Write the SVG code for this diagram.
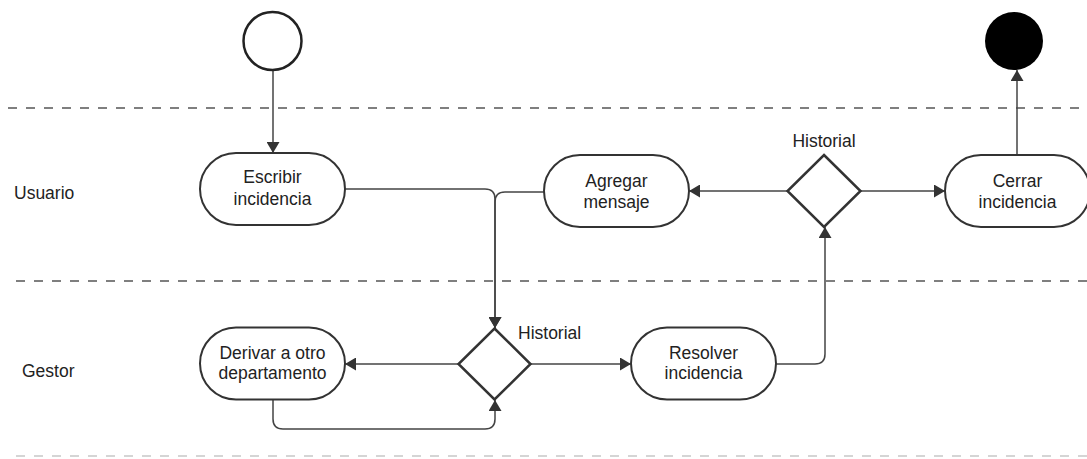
<svg xmlns="http://www.w3.org/2000/svg" width="1087" height="459" viewBox="0 0 1087 459">
<defs>
<style>
.lane{stroke:#555;stroke-width:1.5;stroke-dasharray:9 9;fill:none}
.lane2{stroke:#c8c8c8;stroke-width:1.5;stroke-dasharray:9 9;fill:none}
.box{fill:#fff;stroke:#333;stroke-width:2}
.dia{fill:#fff;stroke:#333;stroke-width:2.5}
.t{font-family:"Liberation Sans",Arial,sans-serif;font-size:17.5px;fill:#222}
.c{text-anchor:middle}
.edge{fill:none;stroke:#444;stroke-width:1.5;marker-end:url(#arr)}
</style>
<marker id="arr" viewBox="0 0 11 13" refX="11" refY="6.5" markerWidth="11" markerHeight="13" markerUnits="userSpaceOnUse" orient="auto">
<path d="M0,0 L11,6.5 L0,13 z" fill="#333"/>
</marker>
</defs>
<rect width="1087" height="459" fill="#fff"/>
<g id="lanes">
<line class="lane" x1="8" y1="108" x2="1087" y2="108"/>
<line class="lane" x1="16" y1="281" x2="1087" y2="281"/>
<line class="lane2" x1="16" y1="456" x2="1087" y2="456"/>
<text class="t" x="14" y="199">Usuario</text>
<text class="t" x="22" y="377">Gestor</text>
</g>
<g id="connectors">
<path class="edge" d="M273 70 V153"/>
<path class="edge" d="M345 189 H485 Q495 189 495 199 V328"/>
<path class="edge" d="M544 192 H505 Q495 192 495 202 V328"/>
<path class="edge" d="M458 364 H345"/>
<path class="edge" d="M273 400 V419 Q273 429 283 429 H485 Q495 429 495 419 V400"/>
<path class="edge" d="M531 364 H631"/>
<path class="edge" d="M776 364 H815 Q825 364 825 354 V227"/>
<path class="edge" d="M787 191 H689"/>
<path class="edge" d="M861 191 H945"/>
<path class="edge" d="M1017 155 V70"/>
</g>
<g id="start"><circle cx="272.5" cy="41" r="29" fill="#fff" stroke="#222" stroke-width="2.5"/></g>
<g id="end"><circle cx="1014" cy="41" r="29" fill="#000"/></g>
<g id="escribir">
<rect class="box" x="200" y="153" width="145" height="72" rx="36"/>
<text class="t c" x="272.5" y="183">Escribir</text>
<text class="t c" x="272.5" y="205">incidencia</text>
</g>
<g id="agregar">
<rect class="box" x="544" y="155" width="145" height="72" rx="36"/>
<text class="t c" x="616.5" y="186.5">Agregar</text>
<text class="t c" x="616.5" y="207.5">mensaje</text>
</g>
<g id="historial1">
<polygon class="dia" points="824,155 860.5,191 824,227 787.5,191"/>
<text class="t c" x="824" y="146.5">Historial</text>
</g>
<g id="cerrar">
<rect class="box" x="945" y="155" width="145" height="72" rx="36"/>
<text class="t c" x="1017.5" y="186.5">Cerrar</text>
<text class="t c" x="1017.5" y="207.5">incidencia</text>
</g>
<g id="derivar">
<rect class="box" x="200" y="327.5" width="145" height="72" rx="36"/>
<text class="t c" x="272.5" y="359">Derivar a otro</text>
<text class="t c" x="272.5" y="379">departamento</text>
</g>
<g id="historial2">
<polygon class="dia" points="494.5,328.5 530.5,364 494.5,399.5 458.5,364"/>
<text class="t" x="518" y="339">Historial</text>
</g>
<g id="resolver">
<rect class="box" x="631" y="327.5" width="145" height="72" rx="36"/>
<text class="t c" x="703.5" y="358.5">Resolver</text>
<text class="t c" x="703.5" y="379">incidencia</text>
</g>
</svg>
